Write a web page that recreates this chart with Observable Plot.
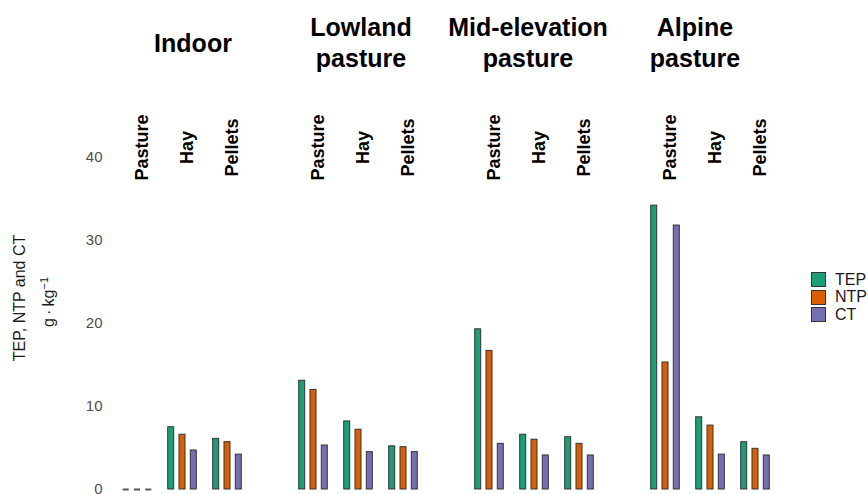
<!DOCTYPE html>
<html>
<head>
<meta charset="utf-8">
<script src="https://cdn.jsdelivr.net/npm/d3@7"></script>
<script src="https://cdn.jsdelivr.net/npm/@observablehq/plot@0.6"></script>
<style>
  html, body { margin: 0; padding: 0; background: #fff; }
  #wrap { position: relative; width: 868px; height: 494px; overflow: hidden; font-family: "Liberation Sans", Arial, sans-serif; }
  #chart { position: absolute; left: 0; top: 0; }
  .ftitle { position: absolute; transform: translateX(-50%); text-align: center; font-weight: bold; font-size: 25px; line-height: 31px; color: #000; white-space: nowrap; }
  .ylab { position: absolute; transform: translate(-50%, -50%) rotate(-90deg); white-space: nowrap; color: #1a1a1a; font-size: 16px; }
  .ylab sup { font-size: 11px; }
  #legend { position: absolute; left: 811px; top: 271px; font-size: 16px; color: #1a1a1a; }
  .lrow { display: flex; align-items: center; height: 17.5px; }
  .lkey { width: 15px; height: 15px; box-sizing: border-box; border: 1px solid #333; margin-right: 9px; }
</style>
</head>
<body>
<div id="wrap">
  <div id="chart"></div>
</div>
<script>
// ---- data (g·kg-1) ----
const locations = ["Indoor", "Lowland pasture", "Mid-elevation pasture", "Alpine pasture"];
const locationLines = [["Indoor"], ["Lowland", "pasture"], ["Mid-elevation", "pasture"], ["Alpine", "pasture"]];
const feeds = ["Pasture", "Hay", "Pellets"];
const seriesNames = ["TEP", "NTP", "CT"];
const seriesColors = ["#1b9e77", "#d95f02", "#7570b3"];
// order: per location, Pasture, Hay, Pellets (0 = not measured, drawn as dash)
const TEP = [0, 7.5, 6.1,  13.1, 8.2, 5.2,  19.3, 6.6, 6.3,  34.2, 8.7, 5.7];
const NTP = [0, 6.6, 5.7,  12.0, 7.2, 5.1,  16.7, 6.0, 5.5,  15.3, 7.7, 4.9];
const CT  = [0, 4.7, 4.2,   5.3, 4.5, 4.5,   5.5, 4.1, 4.1,  31.8, 4.2, 4.1];
const yTicks = [0, 10, 20, 30, 40];

const rows = [];
locations.forEach((loc, i) => feeds.forEach((feed, j) => {
  const k = i * feeds.length + j;
  rows.push({loc, feed, TEP: TEP[k], NTP: NTP[k], CT: CT[k]});
}));

const offsets = [-11.3, 0, 11.3];
const marks = [];
seriesNames.forEach((s, si) => {
  marks.push(Plot.barY(rows.filter(d => d[s] > 0), {
    fx: "loc", x: "feed", y: s,
    fill: seriesColors[si], stroke: "#333", strokeWidth: 1,
    insetLeft: 19.5, insetRight: 19.5, dx: offsets[si]
  }));
  marks.push(Plot.tickY(rows.filter(d => d[s] === 0), {
    fx: "loc", x: "feed", y: s,
    stroke: "#555", strokeWidth: 2,
    insetLeft: 19.5, insetRight: 19.5, dx: offsets[si]
  }));
});
marks.push(Plot.text(rows, {
  fx: "loc", x: "feed", text: "feed", frameAnchor: "top", dy: -10, dx: -2,
  rotate: -90, fontWeight: "bold", fontSize: 18, fill: "#000"
}));
marks.push(Plot.axisY({ticks: yTicks, tickSize: 0, tickPadding: 12, fontSize: 15, color: "#4d4d4d", label: null}));

const chart = Plot.plot({
  width: 868,
  height: 494,
  marginTop: 157,
  marginBottom: 5,
  marginLeft: 113.5,
  marginRight: 91.5,
  style: {fontFamily: "'Liberation Sans', Arial, sans-serif", background: "#fff"},
  fx: {domain: locations, paddingInner: 0.233, paddingOuter: 0, axis: null, label: null},
  x: {domain: feeds, padding: 0, axis: null},
  y: {domain: [0, 40], axis: null},
  marks
});
document.getElementById("chart").appendChild(chart);

// facet titles (header)
const wrap = document.getElementById("wrap");
const titleCenters = [193, 361, 528, 695];
locationLines.forEach((lines, i) => {
  const div = document.createElement("div");
  div.className = "ftitle";
  div.style.left = titleCenters[i] + "px";
  div.style.top = (lines.length === 1 ? 28 : 12) + "px";
  div.innerHTML = lines.join("<br>");
  wrap.appendChild(div);
});

// y-axis title (two lines)
const y1 = document.createElement("div");
y1.className = "ylab"; y1.style.left = "20px"; y1.style.top = "298px";
y1.textContent = "TEP, NTP and CT";
wrap.appendChild(y1);
const y2 = document.createElement("div");
y2.className = "ylab"; y2.style.left = "48px"; y2.style.top = "302px";
y2.innerHTML = "g\u2009\u00b7\u2009kg<sup>\u22121</sup>";
wrap.appendChild(y2);

// legend
const legend = document.createElement("div");
legend.id = "legend";
seriesNames.forEach((s, i) => {
  const row = document.createElement("div");
  row.className = "lrow";
  row.innerHTML = `<div class="lkey" style="background:${seriesColors[i]}"></div><span>${s}</span>`;
  legend.appendChild(row);
});
wrap.appendChild(legend);
</script>
</body>
</html>
